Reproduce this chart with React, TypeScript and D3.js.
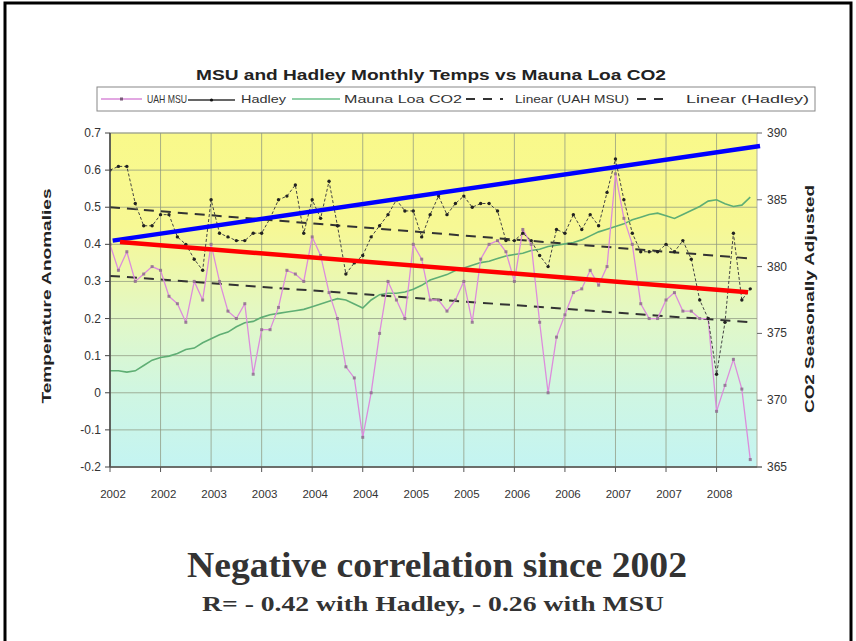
import React from "react";
import * as d3 from "d3";

const xTickLabels = ["2002","2002","2003","2003","2004","2004","2005","2005","2006","2006","2007","2007","2008"];
const leftTicks = [0.7, 0.6, 0.5, 0.4, 0.3, 0.2, 0.1, 0, -0.1, -0.2];
const rightTicks = [390, 385, 380, 375, 370, 365];

// Monthly values Jan 2002 .. May 2008
const uahMsu = [
  0.40, 0.33, 0.38, 0.30, 0.32, 0.34, 0.33, 0.26, 0.24, 0.19,
  0.30, 0.25, 0.40, 0.30, 0.22, 0.20, 0.24, 0.05, 0.17, 0.17,
  0.23, 0.33, 0.32, 0.30, 0.42, 0.37, 0.27, 0.20, 0.07, 0.04,
  -0.12, 0.00, 0.16, 0.30, 0.25, 0.20, 0.40, 0.36, 0.25, 0.25,
  0.22, 0.25, 0.30, 0.19, 0.36, 0.40, 0.41, 0.38, 0.30, 0.44,
  0.40, 0.19, 0.00, 0.15, 0.21, 0.27, 0.28, 0.33, 0.29, 0.34,
  0.59, 0.47, 0.40, 0.24, 0.20, 0.20, 0.25, 0.27, 0.22, 0.22,
  0.20, 0.20, -0.05, 0.02, 0.09, 0.01, -0.18
];
const hadley = [
  0.60, 0.61, 0.61, 0.51, 0.45, 0.45, 0.48, 0.48, 0.42, 0.40,
  0.36, 0.33, 0.52, 0.43, 0.42, 0.41, 0.41, 0.43, 0.43, 0.47,
  0.52, 0.53, 0.56, 0.43, 0.52, 0.47, 0.57, 0.45, 0.32, 0.35,
  0.37, 0.42, 0.45, 0.48, 0.52, 0.49, 0.49, 0.42, 0.48, 0.53,
  0.48, 0.51, 0.53, 0.50, 0.51, 0.51, 0.49, 0.41, 0.41, 0.43,
  0.41, 0.37, 0.34, 0.44, 0.43, 0.48, 0.44, 0.48, 0.45, 0.54,
  0.63, 0.52, 0.43, 0.38, 0.38, 0.38, 0.40, 0.38, 0.41, 0.36,
  0.25, 0.20, 0.05, 0.19, 0.43, 0.25, 0.28
];
const co2 = [
  372.2, 372.2, 372.1, 372.2, 372.6, 373.0, 373.2, 373.3, 373.5, 373.8,
  373.9, 374.3, 374.6, 374.9, 375.1, 375.5, 375.8, 375.9, 376.2, 376.4,
  376.5, 376.6, 376.7, 376.8, 377.0, 377.2, 377.4, 377.6, 377.5, 377.2,
  376.9, 377.5, 377.9, 378.0, 378.0, 378.1, 378.3, 378.6, 379.0, 379.2,
  379.4, 379.7, 379.9, 380.1, 380.3, 380.4, 380.6, 380.8, 380.9, 381.0,
  381.2, 381.3, 381.5, 381.6, 381.7, 381.8, 382.0, 382.3, 382.6, 382.8,
  383.0, 383.2, 383.5, 383.7, 383.9, 384.0, 383.8, 383.6, 383.9, 384.2,
  384.5, 384.9, 385.0, 384.7, 384.5, 384.6, 385.2
];
// Linear trend endpoints (first month, last month)
const trendHadley = [0.50, 0.362];
const trendUah = [0.315, 0.19];
// Hand-drawn annotation lines: [monthIndex, anomaly]
const blueAnnotation = [[0.32, 0.41], [77.16, 0.665]];
const redAnnotation = [[1.19, 0.406], [75.74, 0.271]];

const SANS = "'Liberation Sans', Arial, sans-serif";
const SERIF = "'Liberation Serif', 'Times New Roman', serif";

export default function App() {
  const W = 856, H = 641;
  const left = 110, right = 757, top = 133, bottom = 467;
  const n = uahMsu.length;
  const x = d3.scaleLinear().domain([0, 76.8]).range([left, right]);
  const y = d3.scaleLinear().domain([-0.2, 0.7]).range([bottom, top]);
  const y2 = d3.scaleLinear().domain([365, 390]).range([bottom, top]);

  const lineT = d3.line<number>().x((_, i) => x(i)).y((d) => y(d));
  const lineC = d3.line<number>().x((_, i) => x(i)).y((d) => y2(d));
  const seg = d3.line<number[]>().x((d) => x(d[0])).y((d) => y(d[1]));

  const monthTicks = xTickLabels.map((_, k) => k * 6);
  const trendH = [[0, trendHadley[0]], [n - 1, trendHadley[1]]];
  const trendU = [[0, trendUah[0]], [n - 1, trendUah[1]]];

  const legendY = 99;
  const legendItems = [
    { x1: 101, x2: 142, tx: 147, tw: 40, label: "UAH MSU", kind: "uah" },
    { x1: 188, x2: 235, tx: 241, tw: 45, label: "Hadley", kind: "had" },
    { x1: 292, x2: 340, tx: 344, tw: 118, label: "Mauna Loa CO2", kind: "co2" },
    { x1: 466, x2: 503, tx: 515, tw: 114, label: "Linear (UAH MSU)", kind: "dash" },
    { x1: 637, x2: 671, tx: 686, tw: 123, label: "Linear (Hadley)", kind: "dash" },
  ];

  return (
    <svg width={W} height={H} style={{ position: "absolute", left: 0, top: 0, background: "#fff" }}>
      <defs>
        <linearGradient id="bg" x1="0" y1="0" x2="0" y2="1">
          <stop offset="0%" stopColor="#f9f98a" />
          <stop offset="28%" stopColor="#f7f894" />
          <stop offset="55%" stopColor="#e2f8c6" />
          <stop offset="78%" stopColor="#cff6e2" />
          <stop offset="100%" stopColor="#c4f4f2" />
        </linearGradient>
        <clipPath id="plotclip">
          <rect x={left} y={top - 20} width={right - left + 10} height={bottom - top + 22} />
        </clipPath>
      </defs>
      <rect x={0} y={0} width={W} height={H} fill="#fff" />

      {/* Title */}
      <text x={431} y={80} textAnchor="middle" fontFamily={SANS} fontWeight="bold" fontSize={15}
        textLength={470} lengthAdjust="spacingAndGlyphs" fill="#222">
        MSU and Hadley Monthly Temps vs Mauna Loa CO2
      </text>

      {/* Legend */}
      <rect x={97} y={87} width={718} height={24} fill="#fff" stroke="#888" strokeWidth={1} />
      {legendItems.map((it, k) => (
        <g key={k}>
          {it.kind === "uah" && (
            <g>
              <line x1={it.x1} x2={it.x2} y1={legendY} y2={legendY} stroke="#d98ad9" strokeWidth={1.3} />
              <rect x={(it.x1 + it.x2) / 2 - 1.5} y={legendY - 1.5} width={3} height={3} fill="#7a5a7a" />
            </g>
          )}
          {it.kind === "had" && (
            <g>
              <line x1={it.x1} x2={it.x2} y1={legendY + 1} y2={legendY + 1} stroke="#333" strokeWidth={1.3} />
              <circle cx={(it.x1 + it.x2) / 2} cy={legendY + 1} r={1.6} fill="#111" />
            </g>
          )}
          {it.kind === "co2" && (
            <line x1={it.x1} x2={it.x2} y1={legendY} y2={legendY} stroke="#6cc08a" strokeWidth={1.5} />
          )}
          {it.kind === "dash" && (
            <line x1={it.x1} x2={it.x2} y1={legendY} y2={legendY} stroke="#333" strokeWidth={1.8} strokeDasharray="9,8" />
          )}
          <text x={it.tx} y={legendY + 4} fontFamily={SANS} fontSize={11} fill="#333"
            textLength={it.tw} lengthAdjust="spacingAndGlyphs">{it.label}</text>
        </g>
      ))}

      {/* Plot background */}
      <rect x={left} y={top} width={right - left} height={bottom - top} fill="url(#bg)" stroke="#b0b0a0" strokeWidth={1} />

      {/* Gridlines */}
      {leftTicks.map((t) => (
        <line key={"h" + t} x1={left} x2={right} y1={y(t)} y2={y(t)} stroke="#8f9880" strokeOpacity={0.75} strokeWidth={1} />
      ))}
      {monthTicks.map((m) => (
        <line key={"v" + m} x1={x(m)} x2={x(m)} y1={top} y2={bottom} stroke="#8f9880" strokeOpacity={0.75} strokeWidth={1} />
      ))}

      <g clipPath="url(#plotclip)">
        {/* CO2 */}
        <path d={lineC(co2) || ""} fill="none" stroke="#5fae74" strokeWidth={1.6} />
        {/* Trends */}
        <path d={seg(trendU) || ""} fill="none" stroke="#333" strokeWidth={2} strokeDasharray="10,7" />
        <path d={seg(trendH) || ""} fill="none" stroke="#333" strokeWidth={2} strokeDasharray="10,7" />
        {/* UAH MSU */}
        <path d={lineT(uahMsu) || ""} fill="none" stroke="#dc8cdc" strokeWidth={1.3} />
        {uahMsu.map((v, i) => (
          <rect key={"u" + i} x={x(i) - 1.5} y={y(v) - 1.5} width={3} height={3} fill="#8a6a8a" opacity={0.8} />
        ))}
        {/* Hadley */}
        <path d={lineT(hadley) || ""} fill="none" stroke="#444" strokeWidth={1} strokeDasharray="3,2" />
        {hadley.map((v, i) => (
          <circle key={"h" + i} cx={x(i)} cy={y(v)} r={1.7} fill="#222" />
        ))}
      </g>

      {/* Axes */}
      <line x1={left} x2={left} y1={top} y2={bottom} stroke="#444" strokeWidth={1.5} />
      <line x1={left} x2={right} y1={bottom} y2={bottom} stroke="#555" strokeWidth={1.5} />
      {leftTicks.map((t) => (
        <g key={"lt" + t}>
          <line x1={left - 5} x2={left} y1={y(t)} y2={y(t)} stroke="#444" />
          <text x={101} y={y(t) + 4} textAnchor="end" fontFamily={SANS} fontSize={12} fill="#333">{String(t)}</text>
        </g>
      ))}
      {rightTicks.map((t) => (
        <g key={"rt" + t}>
          <line x1={right} x2={right + 5} y1={y2(t)} y2={y2(t)} stroke="#666" />
          <text x={767} y={y2(t) + 4} fontFamily={SANS} fontSize={12} fill="#333">{String(t)}</text>
        </g>
      ))}
      {monthTicks.map((m, k) => (
        <g key={"xt" + m}>
          <line x1={x(m)} x2={x(m)} y1={bottom} y2={bottom + 5} stroke="#555" />
          <text x={x(m) + 3} y={498} textAnchor="middle" fontFamily={SANS} fontSize={11.5} fill="#333">{xTickLabels[k]}</text>
        </g>
      ))}
      <line x1={right} x2={right + 5} y1={bottom} y2={bottom} stroke="#666" />

      {/* Axis titles */}
      <text transform="translate(51,296) rotate(-90)" textAnchor="middle" fontFamily={SANS} fontWeight="bold"
        fontSize={12} fill="#222" textLength={215} lengthAdjust="spacingAndGlyphs">Temperature Anomalies</text>
      <text transform="translate(814,299) rotate(-90)" textAnchor="middle" fontFamily={SANS} fontWeight="bold"
        fontSize={12} fill="#222" textLength={228} lengthAdjust="spacingAndGlyphs">CO2 Seasonally Adjusted</text>

      {/* Annotation lines */}
      <path d={seg(blueAnnotation) || ""} stroke="#0000ff" strokeWidth={4.5} fill="none" />
      <path d={seg(redAnnotation) || ""} stroke="#ff0000" strokeWidth={4.5} fill="none" />

      {/* Caption */}
      <text x={437} y={577} textAnchor="middle" fontFamily={SERIF} fontWeight="bold" fontSize={35} fill="#333"
        textLength={500} lengthAdjust="spacingAndGlyphs">Negative correlation since 2002</text>
      <text x={433} y={611} textAnchor="middle" fontFamily={SERIF} fontWeight="bold" fontSize={21} fill="#333"
        textLength={462} lengthAdjust="spacingAndGlyphs">R= - 0.42 with Hadley, - 0.26 with MSU</text>

      {/* Frame */}
      <rect x={5} y={3} width={846} height={H + 10} fill="none" stroke="#000" strokeWidth={3} />
    </svg>
  );
}
